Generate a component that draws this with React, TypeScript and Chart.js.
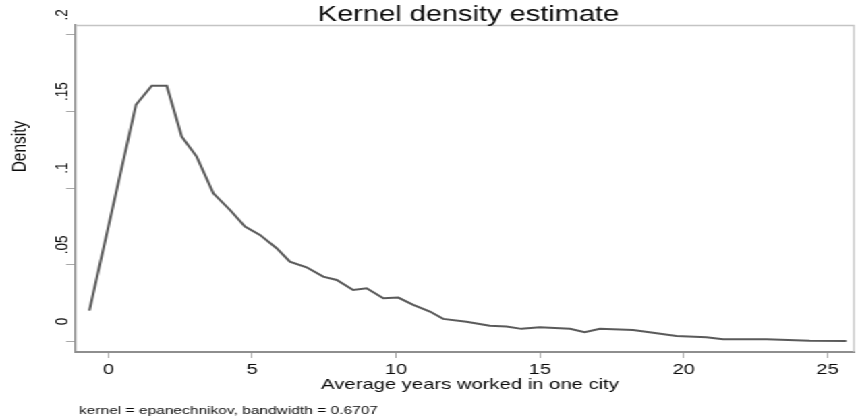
import React, { useEffect, useRef } from 'react';
import { Chart, registerables } from 'chart.js';

Chart.register(...registerables);

// ---- data ----
const yearsWorked = [-0.66, 0.96, 1.51, 2.03, 2.55, 3.07, 3.65, 4.23, 4.75, 5.27, 5.85, 6.31, 6.89, 7.47, 7.94, 8.51, 8.98, 9.56, 10.08, 10.6, 11.18, 11.64, 12.45, 13.26, 13.84, 14.36, 15.0, 16.05, 16.56, 17.09, 18.24, 18.94, 19.75, 20.79, 21.37, 22.88, 24.38, 25.66];
const densityValues = [0.0201, 0.1544, 0.1668, 0.1668, 0.1337, 0.1206, 0.0967, 0.0858, 0.0749, 0.0695, 0.0608, 0.0521, 0.0484, 0.0423, 0.0401, 0.0336, 0.0347, 0.0282, 0.0286, 0.0238, 0.0195, 0.0147, 0.0129, 0.0103, 0.0097, 0.0082, 0.0093, 0.0082, 0.006, 0.0082, 0.0075, 0.0057, 0.0036, 0.0027, 0.0014, 0.0014, 0.0005, 0.0003];

const xTickValues = [0, 5, 10, 15, 20, 25];
const xTickLabels = ['0', '5', '10', '15', '20', '25'];
const yTickValues = [0, 0.05, 0.1, 0.15, 0.2];
const yTickLabels = ['0', '.05', '.1', '.15', '.2'];

const titleText = 'Kernel density estimate';
const xTitleText = 'Average years worked in one city';
const yTitleText = 'Density';
const noteText = 'kernel = epanechnikov, bandwidth = 0.6707';

// ---- layout (internal canvas is horizontally stretched by CSS like the reference) ----
const CANVAS_W = 636;
const CANVAS_H = 420;
const STRETCH = 858 / CANVAS_W;
const FONT = '"Liberation Sans", Arial, Helvetica, sans-serif';

const textPlugin = {
  id: 'stataDecor',
  beforeDatasetsDraw(chart: any) {
    const { ctx, chartArea } = chart;
    ctx.save();
    ctx.strokeStyle = '#c4c4c4';
    ctx.lineWidth = 1.3;
    ctx.beginPath();
    ctx.moveTo(chartArea.left, chartArea.top + 0.5);
    ctx.lineTo(chartArea.right, chartArea.top + 0.5);
    ctx.lineTo(chartArea.right, chartArea.bottom);
    ctx.stroke();
    ctx.restore();
  },
  afterDraw(chart: any) {
    const { ctx } = chart;
    ctx.save();
    ctx.fillStyle = '#0a0a0a';
    ctx.textBaseline = 'alphabetic';

    ctx.font = `21.5px ${FONT}`;
    ctx.textAlign = 'center';
    ctx.fillText(titleText, 347.3, 20.5);

    ctx.font = `15px ${FONT}`;
    ctx.textAlign = 'center';
    ctx.fillText(xTitleText, 348.4, 389);

    ctx.font = `11.5px ${FONT}`;
    ctx.textAlign = 'left';
    ctx.fillText(noteText, 58.6, 414);

    ctx.save();
    ctx.translate(18.5, 146.5);
    ctx.rotate(-Math.PI / 2);
    ctx.font = `15.5px ${FONT}`;
    ctx.textAlign = 'center';
    ctx.fillText(yTitleText, 0, 0);
    ctx.restore();

    ctx.restore();
  },
};

export default function App() {
  const canvasRef = useRef<HTMLCanvasElement | null>(null);

  useEffect(() => {
    const canvas = canvasRef.current;
    if (!canvas) return;
    const points = yearsWorked.map((x, i) => ({ x, y: densityValues[i] }));

    const chart = new Chart(canvas, {
      type: 'line',
      data: {
        datasets: [
          {
            data: points,
            borderColor: '#5a5a5a',
            borderWidth: 2,
            pointRadius: 0,
            tension: 0,
            fill: false,
          },
        ],
      },
      options: {
        responsive: false,
        maintainAspectRatio: false,
        animation: false,
        events: [],
        layout: { padding: { top: 25, right: 3, left: 0, bottom: 0 } },
        plugins: {
          legend: { display: false },
          tooltip: { enabled: false },
          title: { display: false },
        },
        scales: {
          x: {
            type: 'linear',
            min: -1.14,
            max: 25.92,
            afterBuildTicks: (scale: any) => {
              scale.ticks = xTickValues.map((v) => ({ value: v }));
            },
            afterFit: (scale: any) => {
              scale.height = 68;
            },
            ticks: {
              autoSkip: false,
              maxRotation: 0,
              minRotation: 0,
              padding: 3,
              color: '#0a0a0a',
              font: { family: FONT, size: 15 },
              callback: (value: any) => {
                const i = xTickValues.findIndex((v) => Math.abs(v - Number(value)) < 1e-9);
                return i >= 0 ? xTickLabels[i] : '';
              },
            },
            grid: {
              display: true,
              drawOnChartArea: false,
              drawTicks: true,
              tickLength: 6,
              color: '#a8a8a8',
              lineWidth: 1,
            },
            border: { display: true, color: '#8e8e8e', width: 2 },
          },
          y: {
            type: 'linear',
            min: -0.0069,
            max: 0.2065,
            afterBuildTicks: (scale: any) => {
              scale.ticks = yTickValues.map((v) => ({ value: v }));
            },
            afterFit: (scale: any) => {
              scale.width = 56;
            },
            ticks: {
              autoSkip: false,
              minRotation: 90,
              maxRotation: 90,
              crossAlign: 'center',
              labelOffset: -20,
              padding: -7,
              color: '#0a0a0a',
              font: { family: FONT, size: 13.5 },
              callback: (value: any) => {
                const i = yTickValues.findIndex((v) => Math.abs(v - Number(value)) < 1e-9);
                return i >= 0 ? yTickLabels[i] : '';
              },
            },
            grid: {
              display: true,
              drawOnChartArea: false,
              drawTicks: true,
              tickLength: 7,
              color: '#a8a8a8',
              lineWidth: 1,
            },
            border: { display: true, color: '#8e8e8e', width: 1.5 },
          },
        },
      },
      plugins: [textPlugin],
    } as any);

    return () => {
      chart.destroy();
    };
  }, []);

  return (
    <div
      style={{
        position: 'fixed',
        left: 0,
        top: 0,
        width: CANVAS_W,
        height: CANVAS_H,
        background: '#fff',
        transformOrigin: '0 0',
        transform: `scaleX(${STRETCH})`,
      }}
    >
      <canvas ref={canvasRef} width={CANVAS_W} height={CANVAS_H} />
    </div>
  );
}
